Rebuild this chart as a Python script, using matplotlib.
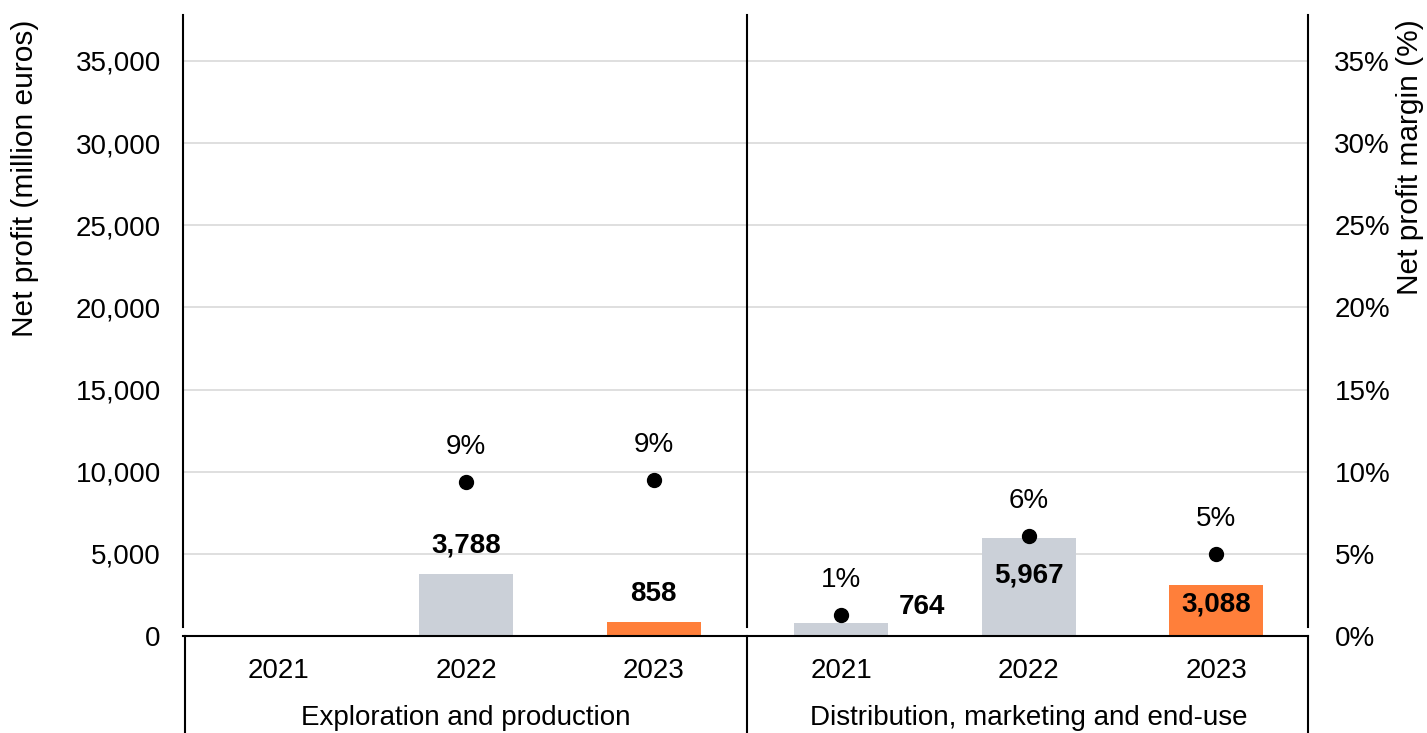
import matplotlib
matplotlib.use("Agg")
import matplotlib.pyplot as plt
import matplotlib.transforms as mtransforms
from matplotlib.ticker import FuncFormatter

plt.rcParams['font.family'] = ['Liberation Sans', 'DejaVu Sans']

# ---- data ----
segments = ["Exploration and production", "Distribution, marketing and end-use"]
years = ["2021", "2022", "2023"]
net_profit = [20, 3788, 858, 764, 5967, 3088]          # million euros
profit_labels = ["", "3,788", "858", "764", "5,967", "3,088"]
margin = [None, 9.4, 9.5, 1.3, 6.1, 5.0]               # %
margin_labels = ["", "9%", "9%", "1%", "6%", "5%"]

# ---- style ----
GREY = "#CBD0D8"
ORANGE = "#FF7F3A"
bar_colors = [GREY, GREY, ORANGE, GREY, GREY, ORANGE]
# label offsets in points (dx, dy) from bar top centre
label_offsets = [(0, 0), (0, 20), (0, 20), (58, 11.5), (0, -27), (0, -13.5)]
FS = 20
FS_LAB = 21.5

fig = plt.figure(figsize=(14.27, 7.33), dpi=100)
ax = fig.add_axes([183/1427, 97/733, 1125/1427, 621/733])
YMAX = 37800
ax.set_ylim(0, YMAX)
ax.set_xlim(-0.51, 5.49)

x = list(range(len(net_profit)))
ax.bar(x, net_profit, width=0.5, color=bar_colors, zorder=2)

ax.set_yticks(range(0, 35001, 5000))
ax.yaxis.set_major_formatter(FuncFormatter(lambda v, p: f"{int(v):,}"))
ax.grid(axis='y', color='#D9D9D9', linewidth=1.2, zorder=0)
ax.set_axisbelow(True)
ax.tick_params(axis='y', length=0, labelsize=FS, pad=16)
ax.set_xticks(x)
ax.set_xticklabels(years * 2)
ax.tick_params(axis='x', length=0, labelsize=FS, pad=16)

ax.spines['top'].set_visible(False)
ax.spines['bottom'].set_linewidth(1.5)
for s in ['left', 'right']:
    ax.spines[s].set_linewidth(1.5)
    ax.spines[s].set_bounds(550, YMAX)

# value labels
for xi, v, lab, (dx, dy) in zip(x, net_profit, profit_labels, label_offsets):
    if lab:
        ax.annotate(lab, (xi, v), xytext=(dx, dy), textcoords='offset points',
                    ha='center', va='center', fontsize=FS, fontweight='bold', zorder=5)

# right axis
ax2 = ax.twinx()
ax2.set_ylim(0, YMAX / 1000)
ax2.set_yticks(range(0, 36, 5))
ax2.yaxis.set_major_formatter(FuncFormatter(lambda v, p: f"{int(v)}%"))
ax2.tick_params(axis='y', length=0, labelsize=FS, pad=19)
for s in ['top', 'bottom', 'left', 'right']:
    ax2.spines[s].set_visible(False)
mx = [xi for xi, m in zip(x, margin) if m is not None]
my = [m for m in margin if m is not None]
ax2.plot(mx, my, 'o', color='black', markersize=10, zorder=5)
for xi, m, lab in zip(x, margin, margin_labels):
    if m is not None:
        ax2.annotate(lab, (xi, m), xytext=(0, 25), textcoords='offset points',
                     ha='center', va='center', fontsize=FS)

# dividers and category box
trans = mtransforms.blended_transform_factory(ax.transData, ax.transAxes)
tax = ax.transAxes
for xa in [2/1125, 1.0]:
    ax.plot([xa, xa], [0, -0.2], transform=tax, color='black', lw=1.5, clip_on=False)
ax.plot([2.5, 2.5], [0, -0.2], transform=trans, color='black', lw=1.5, clip_on=False)
ax.plot([2.5, 2.5], [550 / YMAX, 1.0], transform=trans, color='black', lw=1.5, clip_on=False)

for i, seg in enumerate(segments):
    ax.text(1 + 3 * i, -0.132, seg, transform=trans, ha='center', va='center', fontsize=FS)

fig.text(25/1427, 1 - 178/733, "Net profit (million euros)", rotation=90,
         ha='center', va='center', fontsize=FS_LAB)
fig.text(1410/1427, 1 - 157/733, "Net profit margin (%)", rotation=90,
         ha='center', va='center', fontsize=FS_LAB)

fig.savefig("out.png", dpi=100)
